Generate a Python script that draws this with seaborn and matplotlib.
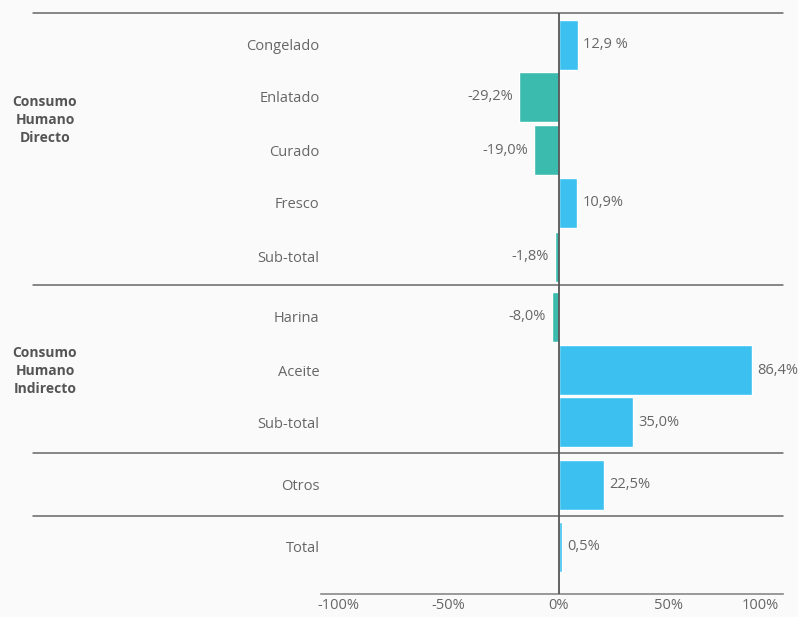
import pandas as pd
import seaborn as sns
import matplotlib.pyplot as plt
from matplotlib.transforms import blended_transform_factory

# datos
categorias = ['Congelado', 'Enlatado', 'Curado', 'Fresco', 'Sub-total',
              'Harina', 'Aceite', 'Sub-total', 'Otros', 'Total']
valores = [8.6, -18.2, -11.4, 8.2, -1.8, -3.2, 87.7, 33.6, 20.5, 1.4]
etiquetas = ['12,9 %', '-29,2%', '-19,0%', '10,9%', '-1,8%',
             '-8,0%', '86,4%', '35,0%', '22,5%', '0,5%']
grupos = ['Consumo\nHumano\nDirecto', 'Consumo\nHumano\nIndirecto']
ticks_x = [-100, -50, 0, 50, 100]
ticks_txt = ['-100%', '-50%', '0%', '50%', '100%']

# layout (pixeles desde arriba)
filas = [45, 97, 150, 203, 257, 317, 370, 422, 485, 547]
separadores = [13, 285, 453, 516]
grupos_y = [120, 371]

GRIS = '#666666'
TEAL = '#3bbbae'
CELESTE = '#3bc0ef'
FONDO = '#fafafa'

sns.set_style('white')
plt.rcParams['font.family'] = ['Open Sans', 'DejaVu Sans']

df = pd.DataFrame({'cat': categorias, 'valor': valores, 'pos': filas})
df['signo'] = ['neg' if v < 0 else 'pos' for v in valores]

W, H = 798, 617
fig = plt.figure(figsize=(W / 100, H / 100), dpi=100, facecolor=FONDO)
ax = fig.add_axes([321 / W, (H - 594) / H, 462 / W, 581 / H])
ax.set_facecolor(FONDO)

sns.barplot(data=df, x='valor', y='pos', hue='signo', orient='h',
            native_scale=True, dodge=False, width=50 / 52,
            palette={'neg': TEAL, 'pos': CELESTE}, legend=False,
            saturation=1, ax=ax)

ax.set_xlim(-108, 102)
ax.set_ylim(594, 13)
ax.axvline(0, color='#555555', lw=1.3, zorder=5)

ax.set_yticks(filas)
ax.set_yticklabels(categorias)
ax.set_xticks(ticks_x)
ax.set_xticklabels(ticks_txt)
ax.tick_params(axis='y', length=0, pad=1, labelsize=10.5, labelcolor=GRIS)
ax.tick_params(axis='x', length=0, pad=3, labelsize=10.5, labelcolor=GRIS)
ax.get_xticklabels()[-1].set_ha('right')
ax.set_xlabel('')
ax.set_ylabel('')

for s in ['top', 'right', 'left']:
    ax.spines[s].set_visible(False)
ax.spines['bottom'].set_color('#888888')
ax.spines['bottom'].set_linewidth(1.2)

trans = blended_transform_factory(ax.transAxes, ax.transData)
for y in separadores:
    ax.plot([(33 - 321) / 462, 1], [y, y], color='#666666', lw=1.1,
            transform=trans, clip_on=False, zorder=4)

for v, y, t in zip(valores, filas, etiquetas):
    if v < 0:
        ax.annotate(t, (v, y), xytext=(-4, 0), textcoords='offset points',
                    ha='right', va='center', fontsize=10.5, color=GRIS)
    else:
        ax.annotate(t, (v, y), xytext=(4, 0), textcoords='offset points',
                    ha='left', va='center', fontsize=10.5, color=GRIS)

for g, y in zip(grupos, grupos_y):
    fig.text(45 / W, 1 - y / H, g, ha='center', va='center', fontsize=10,
             fontweight='bold', color='#555555', linespacing=1.35)

fig.savefig('out.png', dpi=100, facecolor=FONDO)
